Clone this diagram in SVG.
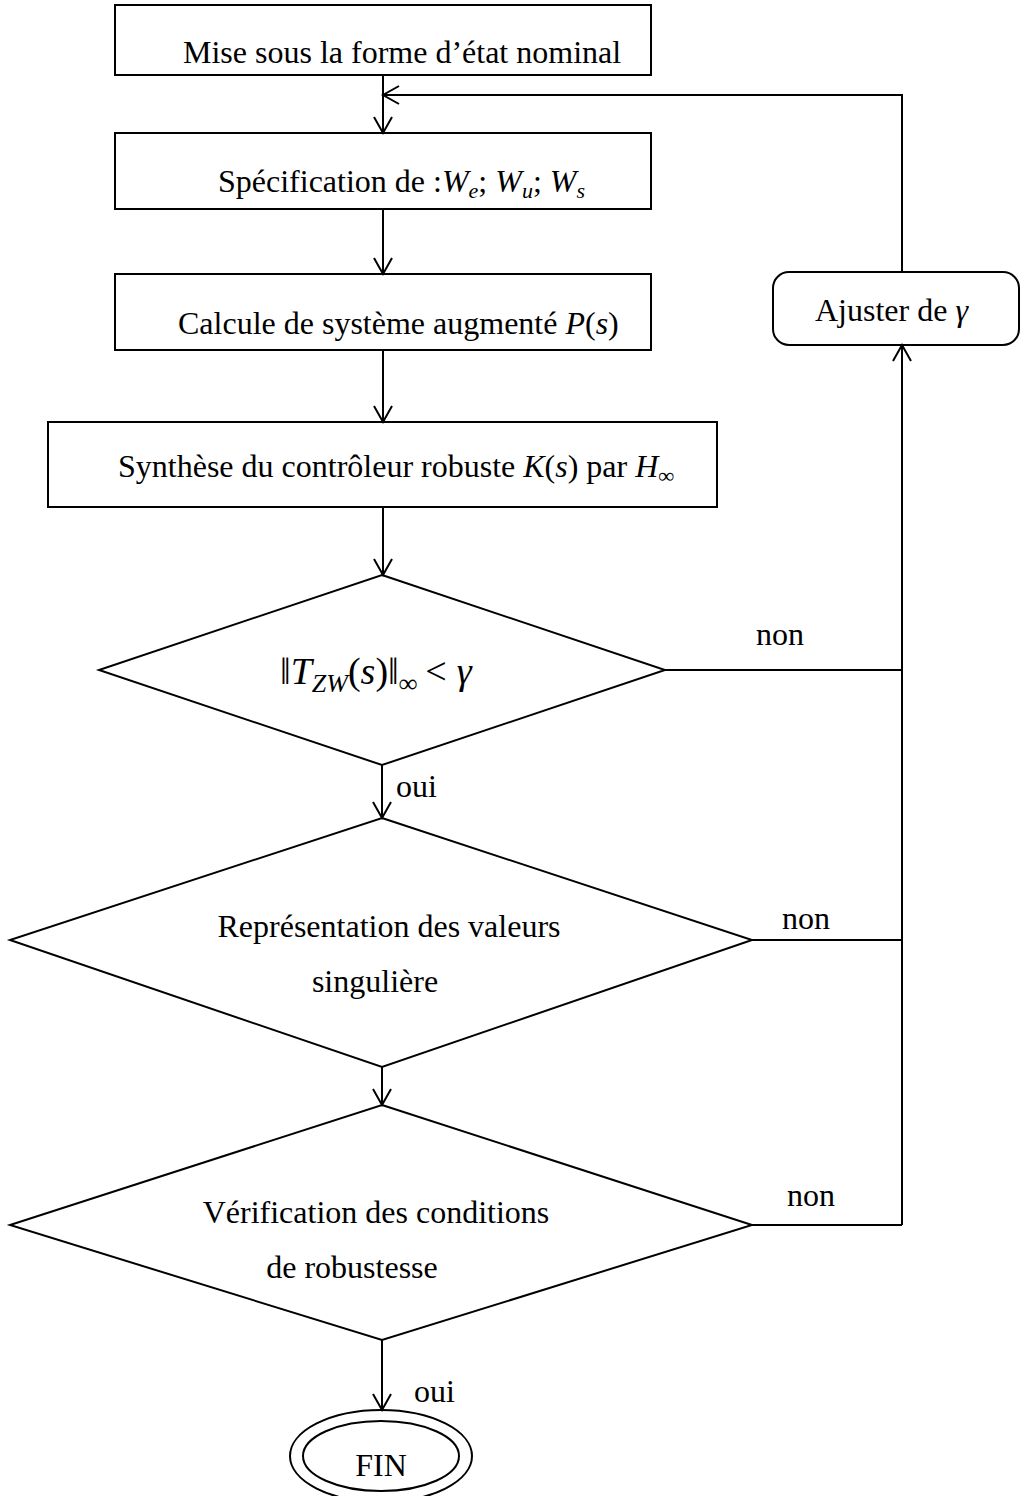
<svg xmlns="http://www.w3.org/2000/svg" width="1021" height="1496" viewBox="0 0 1021 1496">
<style>
.s{fill:none;stroke:#000;stroke-width:2}
.t{font-family:"Liberation Serif","Times New Roman",serif;font-size:32px;fill:#000}
.m{font-style:italic}
.sub{font-size:22px;font-style:italic}
</style>
<defs>
<marker id="ah" markerUnits="userSpaceOnUse" markerWidth="24" markerHeight="24" viewBox="-18 -12 20 24" refX="0" refY="0" orient="auto">
<path d="M-16,-9 L0,0 L-16,9" fill="none" stroke="#000" stroke-width="2"/>
</marker>
</defs>
<rect width="1021" height="1496" fill="#fff"/>
<g id="connectors" class="s">
<path d="M383 75 V133" marker-end="url(#ah)"/>
<path d="M902 272 V95 H383" marker-end="url(#ah)"/>
<path d="M383 209 V274" marker-end="url(#ah)"/>
<path d="M383 350 V422" marker-end="url(#ah)"/>
<path d="M383 507 V575" marker-end="url(#ah)"/>
<path d="M382 765 V818" marker-end="url(#ah)"/>
<path d="M382 1067 V1105" marker-end="url(#ah)"/>
<path d="M382 1340 V1410" marker-end="url(#ah)"/>
<path d="M665 670 H902"/>
<path d="M752 940 H902"/>
<path d="M752 1225 H902"/>
<path d="M902 1225 V345" marker-end="url(#ah)"/>
</g>
<g id="n1"><rect class="s" x="115" y="5" width="536" height="70"/>
<text class="t" x="183" y="63">Mise sous la forme d’état nominal</text></g>
<g id="n2"><rect class="s" x="115" y="133" width="536" height="76"/>
<text class="t" x="218" y="192">Spécification de :<tspan class="m">W</tspan><tspan class="sub" dy="6">e</tspan><tspan dy="-6">; </tspan><tspan class="m">W</tspan><tspan class="sub" dy="6">u</tspan><tspan dy="-6">; </tspan><tspan class="m">W</tspan><tspan class="sub" dy="6">s</tspan></text></g>
<g id="n3"><rect class="s" x="115" y="274" width="536" height="76"/>
<text class="t" x="178" y="334">Calcule de système augmenté <tspan class="m">P</tspan>(<tspan class="m">s</tspan>)</text></g>
<g id="n4"><rect class="s" x="48" y="422" width="669" height="85"/>
<text class="t" x="118" y="477">Synthèse du contrôleur robuste <tspan class="m">K</tspan>(<tspan class="m">s</tspan>) par <tspan class="m">H</tspan><tspan class="sub" dy="6">∞</tspan></text></g>
<g id="n5"><rect class="s" x="773" y="272" width="246" height="73" rx="16"/>
<text class="t" x="815" y="321">Ajuster de <tspan class="m">γ</tspan></text></g>
<g id="d1"><path class="s" d="M382 575 L665 670 L382 765 L99 670 Z"/>
<text class="t" x="280" y="684" style="font-size:38px">‖<tspan class="m">T</tspan><tspan class="sub" style="font-size:26px" dy="8">ZW</tspan><tspan dy="-8">(</tspan><tspan class="m">s</tspan>)‖<tspan class="sub" style="font-size:26px" dy="8">∞</tspan><tspan dy="-8" dx="8">&lt;</tspan><tspan class="m" dx="10">γ</tspan></text></g>
<g id="d2"><path class="s" d="M382 818 L752 940 L382 1067 L10 940 Z"/>
<text class="t" x="389" y="937" text-anchor="middle">Représentation des valeurs</text>
<text class="t" x="375" y="992" text-anchor="middle">singulière</text></g>
<g id="d3"><path class="s" d="M382 1105 L752 1225 L382 1340 L10 1225 Z"/>
<text class="t" x="376" y="1223" text-anchor="middle">Vérification des conditions</text>
<text class="t" x="352" y="1278" text-anchor="middle">de robustesse</text></g>
<g id="fin"><ellipse class="s" cx="381" cy="1456" rx="91" ry="46"/>
<ellipse class="s" cx="381" cy="1456" rx="78" ry="35"/>
<text class="t" x="381" y="1476" text-anchor="middle">FIN</text></g>
<g id="labels">
<text class="t" x="780" y="645" text-anchor="middle">non</text>
<text class="t" x="806" y="929" text-anchor="middle">non</text>
<text class="t" x="811" y="1206" text-anchor="middle">non</text>
<text class="t" x="396" y="797">oui</text>
<text class="t" x="414" y="1402">oui</text>
</g>
</svg>
